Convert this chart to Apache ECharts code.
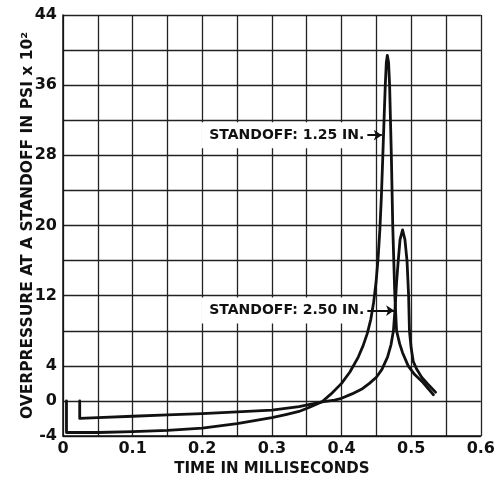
<!DOCTYPE html>
<html>
<head>
<meta charset="utf-8">
<script src="https://cdn.jsdelivr.net/npm/echarts@6/dist/echarts.min.js"></script>
<style>
html,body{margin:0;padding:0;background:#fff;}
#c{width:498px;height:482px;}
</style>
</head>
<body>
<div id="c"></div>
<script>
// Standoff 1.25 in.
var t125 = [0.005,0.005,0.05,0.1,0.15,0.2,0.25,0.3,0.32,0.339,0.355,0.372,0.385,0.4,0.412,0.424,0.431,0.437,0.442,0.446,0.4495,0.4525,0.455,0.4572,0.4592,0.461,0.4628,0.4643,0.4657,0.4675,0.469,0.4715,0.4735,0.475,0.4765,0.479,0.4835,0.4876,0.4957,0.505,0.517,0.532];
var v125 = [0,-3.6,-3.6,-3.5,-3.35,-3.1,-2.6,-1.9,-1.55,-1.2,-0.7,-0.1,0.8,2.0,3.3,5.0,6.3,7.7,9.3,11.2,13.5,16.3,19.5,23.3,27.8,32,36,38.6,39.4,38.6,36,28,20,16,12,8,6.5,5.5,4.0,3.0,2.1,0.7];
// Standoff 2.50 in.
var t250 = [0.024,0.024,0.05,0.1,0.15,0.2,0.25,0.3,0.339,0.372,0.39,0.4,0.415,0.43,0.44,0.45,0.458,0.466,0.471,0.4745,0.4768,0.479,0.4814,0.484,0.4876,0.491,0.494,0.4963,0.4975,0.5,0.503,0.508,0.515,0.524,0.535];
var v250 = [0,-2.0,-1.9,-1.75,-1.6,-1.45,-1.25,-1.05,-0.65,-0.1,0.1,0.3,0.8,1.4,2.0,2.7,3.6,5.0,6.4,8,10.5,13.5,16,18.4,19.5,18.4,16,12,8,6,4.5,3.6,2.7,1.9,1.0];
var xTickLabels = ['0','0.1','0.2','0.3','0.4','0.5','0.6'];
var yTickLabels = ['-4','0','4','12','20','28','36','44'];
var labelTexts = ['STANDOFF: 1.25 IN.','STANDOFF: 2.50 IN.'];
// arrow start / end in data coords [t, v]
var arrowFrom = [[0.437,30.3],[0.437,10.3]];
var arrowTo = [[0.4578,30.3],[0.4755,10.3]];

function pairs(t,v){var o=[];for(var i=0;i<t.length;i++)o.push([t[i],v[i]]);return o;}

var FONT = 'DejaVu Sans';
var chart = echarts.init(document.getElementById('c'));
var lineStyle = {color:'#111',width:2.8,cap:'round',join:'round'};
var arrowStyle = {color:'#111',width:2,type:'solid'};

chart.setOption({
  animation:false,
  backgroundColor:'#fff',
  grid:{left:63,right:15,top:15,bottom:46,containLabel:false},
  xAxis:{
    type:'value',min:0,max:0.6,interval:0.05,
    name:'TIME IN MILLISECONDS',nameLocation:'middle',nameGap:25,
    nameTextStyle:{fontFamily:FONT,fontWeight:'bold',fontSize:15,color:'#111'},
    axisLine:{show:true,onZero:false,lineStyle:{color:'#111',width:1.5}},
    axisTick:{show:false},
    splitLine:{show:true,lineStyle:{color:'#222',width:1.3}},
    axisLabel:{
      fontFamily:FONT,fontWeight:'bold',fontSize:16,color:'#111',margin:5,
      formatter:function(v){var k=Math.round(v*20);return k%2===0?xTickLabels[k/2]:'';}
    }
  },
  yAxis:{
    type:'value',min:-4,max:44,interval:4,
    name:'OVERPRESSURE AT A STANDOFF IN PSI x 10\u00B2',nameLocation:'middle',nameGap:27,nameRotate:90,
    nameMoveOverlap:false,
    nameTextStyle:{fontFamily:FONT,fontWeight:'bold',fontSize:15.5,color:'#111'},
    axisLine:{show:true,onZero:false,lineStyle:{color:'#111',width:1.5}},
    axisTick:{show:false},
    splitLine:{show:true,lineStyle:{color:'#222',width:1.3}},
    axisLabel:{
      fontFamily:FONT,fontWeight:'bold',fontSize:16,color:'#111',margin:6,
      formatter:function(v){var s=String(Math.round(v));return yTickLabels.indexOf(s)>=0?s:'';}
    }
  },
  series:[
    {type:'line',name:labelTexts[0],data:pairs(t125,v125),symbol:'none',lineStyle:lineStyle,z:3,
     markLine:{silent:true,symbol:['none','arrow'],symbolSize:8,lineStyle:arrowStyle,label:{show:false},
       data:[[{coord:arrowFrom[0]},{coord:arrowTo[0]}]]}},
    {type:'line',name:labelTexts[1],data:pairs(t250,v250),symbol:'none',lineStyle:lineStyle,z:3,
     markLine:{silent:true,symbol:['none','arrow'],symbolSize:8,lineStyle:arrowStyle,label:{show:false},
       data:[[{coord:arrowFrom[1]},{coord:arrowTo[1]}]]}}
  ]
});

var gr=[];
for(var i=0;i<labelTexts.length;i++){
  var p=chart.convertToPixel({xAxisIndex:0,yAxisIndex:0},arrowFrom[i]);
  gr.push({type:'text',x:p[0]-1,y:p[1],z:10,
    style:{text:labelTexts[i],fill:'#111',font:'bold 14px "'+FONT+'"',align:'right',verticalAlign:'middle',
      backgroundColor:'#fff',padding:[6,2,6,8]}});
}
chart.setOption({graphic:gr});
</script>
</body>
</html>
